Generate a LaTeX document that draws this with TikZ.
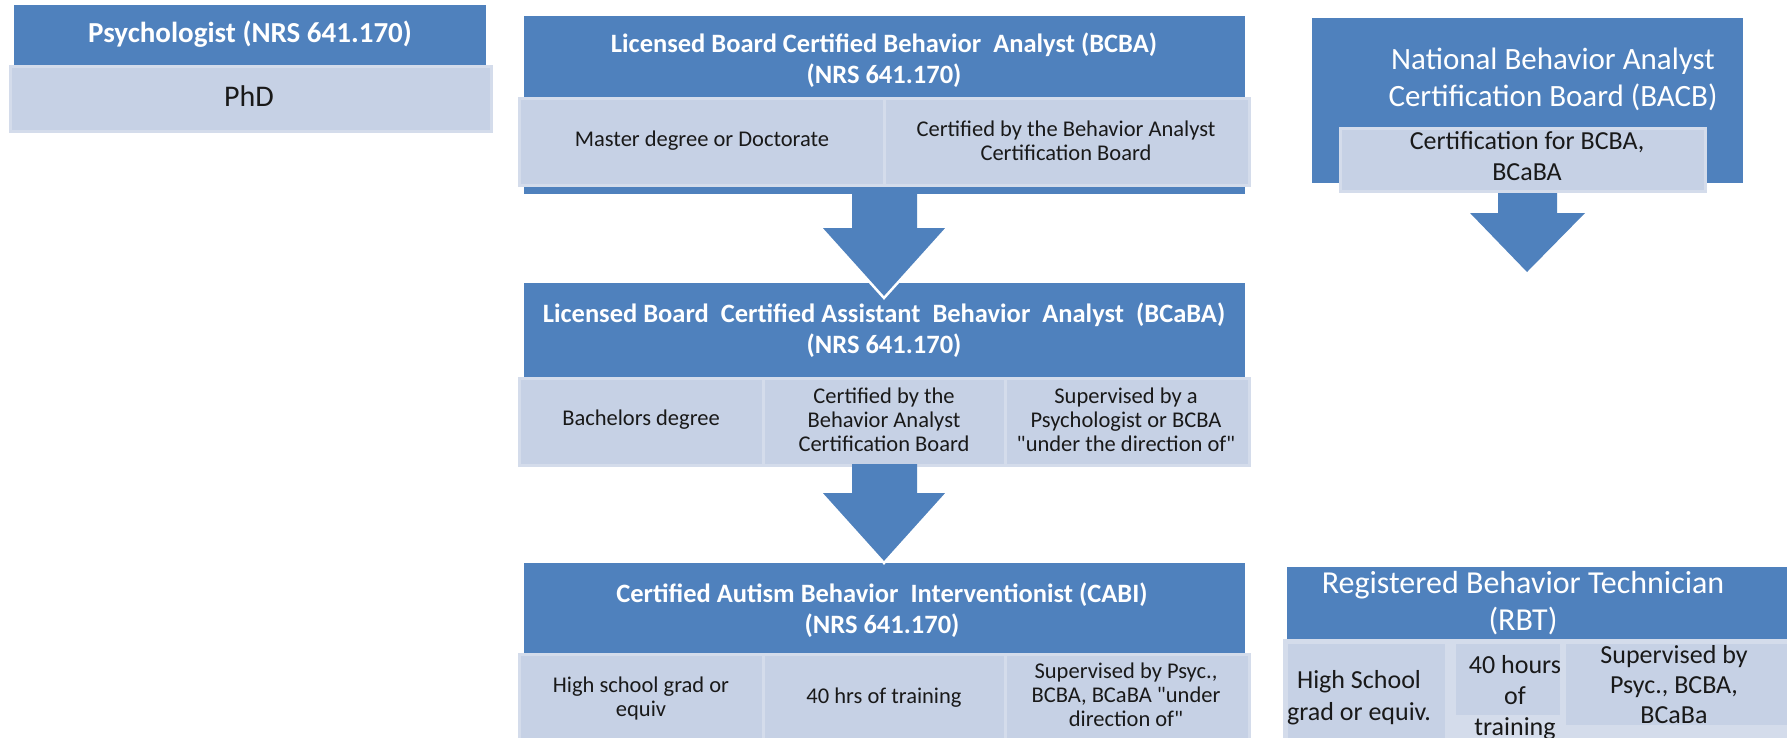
\documentclass[tikz,border=0pt]{standalone}
\usepackage{fontspec}
\setmainfont{Carlito}
\definecolor{hdr}{RGB}{79,129,189}
\definecolor{cell}{RGB}{198,209,229}
\definecolor{celledge}{RGB}{212,220,235}
\definecolor{ink}{RGB}{25,25,25}
\newcommand{\mlines}[1]{\begin{tabular}[t]{@{}c@{}}#1\end{tabular}}
\tikzset{
  hdrbox/.style={fill=hdr},
  cellbox/.style={fill=cell, draw=celledge, line width=3pt},
  arrowfill/.style={fill=hdr},
  tipline/.style={draw=white, line width=2.5pt, line join=miter},
  txt/.style={inner sep=0pt, anchor=base},
  htitle/.style={txt, text=white, font=\bfseries\fontsize{26.5}{31}\selectfont},
  ctext/.style={txt, text=ink, font=\fontsize{22.5}{24}\selectfont},
  bigw/.style={txt, text=white, font=\fontsize{31}{37}\selectfont},
  bigc/.style={txt, text=ink, font=\fontsize{26}{31}\selectfont},
}
\begin{document}
\begin{tikzpicture}[x=1pt,y=-1pt]
\useasboundingbox (0,0) rectangle (1787,738);
\fill[white] (0,0) rectangle (1787,738);

% ---------- Psychologist ----------
\fill[hdrbox] (14,5) rectangle (486,66);
\path[cellbox] (10,67) rectangle (491,132);
\node[txt, text=white, font=\bfseries\fontsize{29}{34}\selectfont] (psy) at (250,43) {Psychologist (NRS 641.170)};
\node[txt, text=ink, font=\fontsize{30}{36}\selectfont] (phd) at (249,107) {PhD};

% ---------- BCBA ----------
\fill[hdrbox] (524,16) rectangle (1245,194);
\path[cellbox] (519,99) rectangle (884,186);
\path[cellbox] (884,99) rectangle (1249,186);
\node[htitle] (bcba) at (884,53) {\mlines{Licensed Board Certified Behavior\ \ Analyst (BCBA)\\(NRS 641.170)}};
\node[ctext] (bcba1) at (702,147) {Master degree or Doctorate};
\node[ctext] (bcba2) at (1066,137) {\mlines{Certified by the Behavior Analyst\\Certification Board}};

% ---------- BCaBA ----------
\fill[hdrbox] (524,283) rectangle (1245,466);
\path[cellbox] (519,378) rectangle (763,465);
\path[cellbox] (763,378) rectangle (1005,465);
\path[cellbox] (1005,378) rectangle (1249,465);
\node[htitle] (bcaba) at (884,322) {\mlines{Licensed Board\ \ Certified Assistant\ \ Behavior\ \ Analyst\ \ (BCaBA)\\(NRS 641.170)}};
\node[ctext] (bcaba1) at (641,425) {Bachelors degree};
\node[ctext] (bcaba2) at (884,403) {\mlines{Certified by the\\Behavior Analyst\\Certification Board}};
\node[ctext] (bcaba3) at (1126,403) {\mlines{Supervised by a\\Psychologist or BCBA\\\textquotedbl under the direction of\textquotedbl}};

% ---------- CABI ----------
\fill[hdrbox] (524,563) rectangle (1245,745);
\path[cellbox] (519,654) rectangle (763,750);
\path[cellbox] (763,654) rectangle (1005,750);
\path[cellbox] (1005,654) rectangle (1249,750);
\node[htitle] (cabi) at (882,602) {\mlines{Certified Autism Behavior\ \ Interventionist (CABI)\\(NRS 641.170)}};
\node[ctext] (cabi1) at (641,692) {\mlines{High school grad or\\equiv}};
\node[ctext] (cabi2) at (884,703) {40 hrs of training};
\node[ctext] (cabi3) at (1126,678) {\mlines{Supervised by Psyc.,\\BCBA, BCaBA \textquotedbl under\\direction of\textquotedbl}};

% ---------- BACB ----------
\fill[hdrbox] (1312,18) rectangle (1743,183);
\fill[arrowfill] (1498,185) -- (1498,213) -- (1470,213) -- (1527,272) -- (1585,213) -- (1557,213) -- (1557,185) -- cycle;
\path[cellbox] (1340,129) rectangle (1705,192);
\node[bigw] (bacb) at (1553,70) {\mlines{National Behavior Analyst\\Certification Board (BACB)}};
\node[bigc] (bacbc) at (1527,150) {\mlines{Certification for BCBA,\\BCaBA}};

% ---------- RBT ----------
\fill[hdrbox] (1287,567) rectangle (1787,745);
\fill[celledge] (1283,639) rectangle (1790,745);
\path[cellbox] (1286,642) rectangle (1446,750);
\path[cellbox] (1454,642) rectangle (1561,716);
\path[cellbox] (1564,642) rectangle (1790,726);
\node[bigw, font=\fontsize{32}{37}\selectfont] (rbt) at (1523,593) {\mlines{Registered Behavior Technician\\(RBT)}};
\node[bigc, font=\fontsize{26}{32}\selectfont] (rbt1) at (1359,688) {\mlines{High School\\grad or equiv.}};
\node[bigc, font=\fontsize{26}{31}\selectfont] (rbt2) at (1515,673) {\mlines{40 hours\\of\\training}};
\node[bigc, font=\fontsize{26}{30}\selectfont] (rbt3) at (1674,663) {\mlines{Supervised by\\Psyc., BCBA,\\BCaBa}};

% ---------- block arrows ----------
\fill[arrowfill] (852,191) -- (852,228) -- (821,228) -- (884,298) -- (947,228) -- (917,228) -- (917,191) -- cycle;
\draw[tipline] (821,228) -- (884,298) -- (947,228);
\fill[arrowfill] (852,464) -- (852,493) -- (821,493) -- (884,563) -- (947,493) -- (917,493) -- (917,464) -- cycle;
\draw[tipline] (821,493) -- (884,563) -- (947,493);
\end{tikzpicture}
\end{document}
